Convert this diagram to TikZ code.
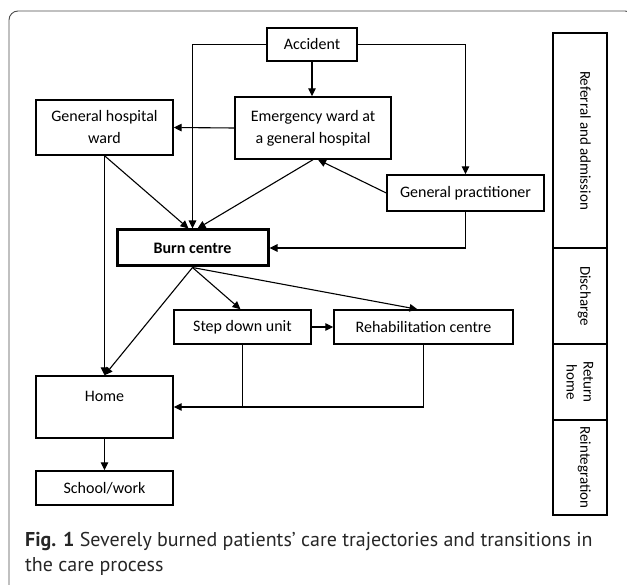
\documentclass[tikz,border=0pt]{standalone}
\usepackage{fontspec}
\setmainfont{Carlito}
\newfontfamily\capfont{PT Sans}
\usetikzlibrary{arrows.meta}

\tikzset{
  box/.style={draw, line width=1.4pt, inner sep=0pt, align=center,
    font=\fontsize{16}{22}\selectfont},
  phase/.style={draw, line width=1.7pt, inner sep=0pt, align=center, rotate=-90,
    minimum height=54pt, font=\fontsize{15}{17}\selectfont},
  arr/.style={line width=1.1pt, -{Triangle[length=8pt,width=7.5pt]}},
  link/.style={line width=1.1pt}
}

\begin{document}
\begin{tikzpicture}[x=1pt,y=-1pt]
\useasboundingbox (0,0) rectangle (627,585);
\clip (0,0) rectangle (627,585);

% Frame
\draw[black!70, line width=0.9pt, rounded corners=9pt] (9,600) |- (634,11) -- (634,600);

% Referral and admission
\node[box, minimum width=90pt, minimum height=33pt] (accident) at (312,44.5) {Accident};
\node[box, minimum width=156pt, minimum height=62pt] (emergency) at (313,128) {Emergency ward at\\a general hospital};
\node[box, minimum width=137pt, minimum height=55pt] (genward) at (104.5,127.5) {General hospital\\ward};
\node[box, minimum width=157pt, minimum height=36pt] (gp) at (465.5,193) {General practitioner};
\node[box, line width=3pt, minimum width=151pt, minimum height=36pt, font=\fontsize{16}{22}\selectfont\bfseries] (burn) at (192.5,248) {Burn centre};

% Discharge
\node[box, minimum width=137pt, minimum height=34pt] (stepdown) at (242.5,327) {Step down unit};
\node[box, minimum width=179pt, minimum height=34pt] (rehab) at (423.5,327) {Rehabilitation centre};

% Return home and reintegration
\node[box, minimum width=137pt, minimum height=62pt, text height=11pt, text depth=21pt] (home) at (104.5,407) {Home};
\node[box, minimum width=137pt, minimum height=34pt] (school) at (104.5,488) {School/work};

% Phases
\node[phase, minimum width=215pt, text depth=11pt] (referral) at (580,140.5) {Referral and admission};
\node[phase, minimum width=96pt, text depth=11pt] (discharge) at (580,296) {Discharge};
\node[phase, minimum width=76pt] (returnhome) at (580,382) {Return\\home};
\node[phase, minimum width=95pt, text depth=11pt] (reintegration) at (580,467.5) {Reintegration};

% Arrows from the accident
\draw[arr] (accident.south) -- (accident.south |- emergency.north);
\draw[arr] (accident.west) -| (burn.north);
\draw[arr] (accident.east) -| (gp.north);

% Arrows into the burn centre
\draw[arr] (emergency.west) -- (genward.east);
\draw[arr] (gp.west) -- ([xshift=5pt]emergency.south);
\draw[arr] (emergency.south) -- ([xshift=5pt]burn.north);
\draw[arr] (genward.south) -- ([xshift=-4pt]burn.north);
\draw[arr] (gp.south) |- (burn.east);
\draw[arr] (genward.south) -- (home.north);

% Arrows out of the burn centre
\draw[arr] (burn.south) -- (home.north);
\draw[arr] (burn.south) -- ([xshift=-2pt]stepdown.north);
\draw[arr] (burn.south) -- ([xshift=-6pt]rehab.north);
\draw[arr] (stepdown.east) -- (rehab.west);
\draw[arr] (rehab.south) |- (home.east);
\draw[link] (stepdown.south) -- (stepdown.south |- home.east);
\draw[arr] (home.south) -- (school.north);

% Caption
\node[anchor=north west, align=left, inner sep=0pt, text=black!85,
  font=\capfont\fontsize{20}{25}\selectfont] (caption) at (25,532)
  {\textbf{Fig. 1} Severely burned patients’ care trajectories and transitions in\\the care process};
\end{tikzpicture}
\end{document}
